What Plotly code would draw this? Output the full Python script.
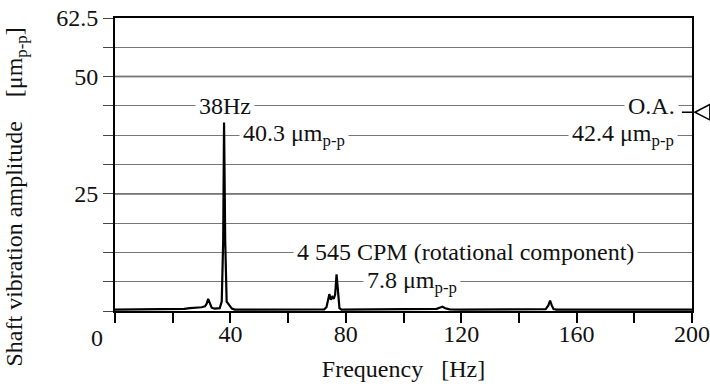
import plotly.graph_objects as go

# Spectrum data
freq_hz = [0, 5, 10, 15, 20, 24, 26, 28, 30, 31.2, 31.8, 32.3, 32.8, 33.5, 34.5, 36.3, 37.0,
           37.5, 37.8, 38.2, 38.7, 39.2, 39.8, 40.5, 41.5, 45, 50, 60, 70, 72.5, 73.3, 73.8,
           74.3, 74.8, 75.3, 75.8, 76.3, 76.8, 77.3, 77.8, 78.5, 80, 90, 100, 110, 111.5,
           112.5, 113.5, 114.5, 116, 120, 130, 140, 149.3, 150.2, 150.8, 151.4, 152.0,
           153, 160, 170, 180, 190, 200]
amp_um = [0.3, 0.3, 0.3, 0.3, 0.35, 0.45, 0.6, 0.65, 0.8, 1.0, 1.6, 2.6, 1.6, 0.7, 0.5, 0.6, 2.0,
          15.0, 40.3, 15.0, 2.0, 1.5, 1.1, 0.5, 0.3, 0.3, 0.3, 0.3, 0.3, 0.35, 0.8, 2.2,
          3.6, 2.4, 3.0, 2.6, 3.5, 7.8, 3.0, 0.6, 0.3, 0.3, 0.3, 0.3, 0.3, 0.45,
          0.7, 0.9, 0.6, 0.35, 0.3, 0.3, 0.3, 0.4, 1.2, 2.2, 1.2, 0.4,
          0.3, 0.3, 0.3, 0.3, 0.3, 0.3]

x_tick_vals = [0, 20, 40, 60, 80, 100, 120, 140, 160, 180, 200]
x_tick_text = ["", "", "40", "", "80", "", "120", "", "160", "", "200"]
y_tick_vals = [0, 6.25, 12.5, 18.75, 25, 31.25, 37.5, 43.75, 50, 56.25, 62.5]
y_tick_text = ["", "", "", "", "25", "", "", "", "50", "", "62.5"]
dark_grid_levels = [25, 50]

overall_amp = 42.4

FONT = "Liberation Serif"
FS = 24

fig = go.Figure()
fig.add_trace(go.Scatter(x=freq_hz, y=amp_um, mode="lines",
                         line=dict(color="black", width=2.2), hoverinfo="skip",
                         showlegend=False))

shapes = []
for lv in dark_grid_levels:
    shapes.append(dict(type="line", xref="paper", x0=0, x1=1, yref="y", y0=lv, y1=lv,
                       line=dict(color="#222", width=1.5), layer="below"))
shapes.append(dict(type="line", xref="x", x0=196.5, x1=200, yref="y",
                   y0=overall_amp, y1=overall_amp, line=dict(color="black", width=1.5)))
# O.A. open triangle marker just outside the right axis
shapes.append(dict(type="path", xref="paper", yref="y",
                   path=f"M 1.005,{overall_amp} L 1.031,{overall_amp + 1.65} "
                        f"L 1.031,{overall_amp - 1.65} Z",
                   line=dict(color="black", width=1.5), fillcolor="white"))
fig.update_layout(shapes=shapes)

def ann(x, y, text):
    fig.add_annotation(x=x, y=y, xref="x", yref="y", text=text, showarrow=False,
                       bgcolor="white", borderpad=3,
                       font=dict(family=FONT, size=FS, color="#111"))

ann(38.0, 43.75, "38Hz")
ann(62.0, 37.5, "40.3 μm<sub>p-p</sub>")
ann(186.0, 43.75, "O.A.")
ann(176.0, 37.5, "42.4 μm<sub>p-p</sub>")
ann(121.4, 12.5, "4 545 CPM (rotational component)")
ann(103.0, 6.25, "7.8 μm<sub>p-p</sub>")
# "0" tick label sits left of the axis
fig.add_annotation(x=0, y=0, xref="x", yref="y", text="0", showarrow=False,
                   xshift=-18, yshift=-27, font=dict(family=FONT, size=FS, color="#111"))
# y-axis title (placed lower than the plot centre, as in the original)
fig.add_annotation(xref="paper", yref="paper", x=-0.172, y=0.39, textangle=-90,
                   text="Shaft vibration amplitude    [μm<sub>p-p</sub>]", showarrow=False,
                   xanchor="center", yanchor="middle",
                   font=dict(family=FONT, size=FS, color="#111"))

fig.update_layout(
    width=710, height=387,
    margin=dict(l=115, r=18, t=18, b=76),
    paper_bgcolor="white", plot_bgcolor="white",
    font=dict(family=FONT, size=FS, color="#111"),
    xaxis=dict(range=[0, 200], tickvals=x_tick_vals, ticktext=x_tick_text,
               ticks="outside", ticklen=10, tickwidth=1.5, tickcolor="black",
               showline=True, linecolor="black", linewidth=2, mirror=True,
               showgrid=False, zeroline=False, automargin=False,
               ticklabelstandoff=-10,
               tickfont=dict(family=FONT, size=FS),
               title=dict(text="Frequency   [Hz]", standoff=14,
                          font=dict(family=FONT, size=FS))),
    yaxis=dict(range=[0, 62.5], tickvals=y_tick_vals, ticktext=y_tick_text,
               ticks="outside", ticklen=10, tickwidth=1, tickcolor="#444",
               showline=True, linecolor="black", linewidth=2, mirror=True,
               showgrid=True, gridcolor="#777", gridwidth=1, zeroline=False,
               automargin=False, tickfont=dict(family=FONT, size=FS)),
)

fig.write_html("out.html", post_script="document.body.style.margin='0';",
               config={"displayModeBar": False})
